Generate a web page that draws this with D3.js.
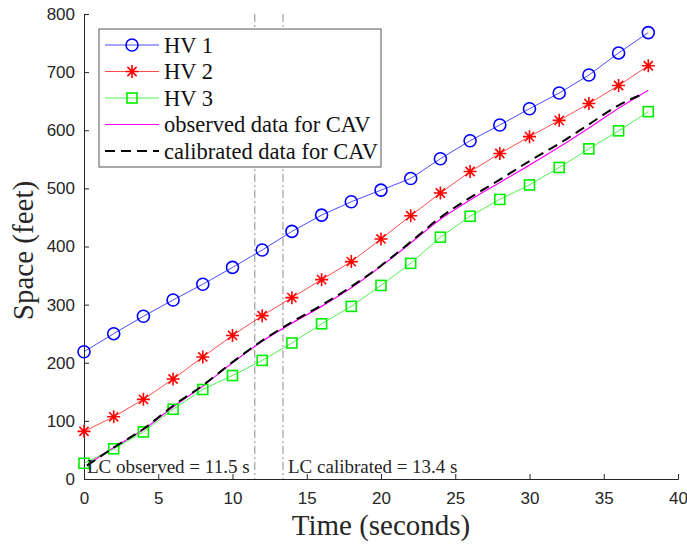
<!DOCTYPE html>
<html>
<head>
<meta charset="utf-8">
<script src="https://cdn.jsdelivr.net/npm/d3@7"></script>
<style>
  body { margin: 0; background: #fff; }
  svg { display: block; }
</style>
</head>
<body>
<div id="chart"></div>
<script>
// sample times (seconds) for the human driven vehicles
const hvTime = [0, 2, 4, 6, 8, 10, 12, 14, 16, 18, 20, 22, 24, 26, 28, 30, 32, 34, 36, 38];
const hv1 = [219, 250, 280, 308, 335, 364, 394, 426, 454, 477, 497, 517, 551, 582, 609, 637, 664, 695, 733, 768];
const hv2 = [82, 107, 137, 172, 210, 247, 281, 312, 343, 374, 413, 453, 492, 529, 560, 589, 617, 646, 677, 711];
const hv3 = [27, 52, 81, 120, 154, 178, 204, 234, 267, 297, 333, 371, 416, 452, 481, 506, 536, 568, 599, 632];

// CAV trajectories
const obsTime = [0.2, 2, 4, 6, 8, 10, 12, 14, 16, 18, 20, 22, 24, 26, 28, 30, 32, 34, 36, 38];
const obsCav = [24, 54, 85, 124, 160, 200, 237, 268, 297, 329, 366, 406, 447, 480, 510, 540, 571, 604, 638, 669];
const calTime = [0.2, 2, 4, 6, 8, 10, 12, 14, 16, 18, 20, 22, 24, 26, 28, 30, 32, 34, 36, 37.6];
const calCav = [23, 54, 86, 126, 161, 201, 238, 270, 299, 331, 367, 408, 450, 484, 515, 547, 577, 610, 643, 662];

const xTicks = [0, 5, 10, 15, 20, 25, 30, 35, 40];
const yTicks = [0, 100, 200, 300, 400, 500, 600, 700, 800];
const lcMarks = [
  { t: 11.5, label: "LC observed = 11.5 s" },
  { t: 13.4, label: "LC calibrated = 13.4 s" }
];
const legendNames = ["HV 1", "HV 2", "HV 3", "observed data for CAV", "calibrated data for CAV"];

const width = 687, height = 550;
const margin = { top: 14, right: 9, bottom: 71, left: 84 };

const svg = d3.select("#chart").append("svg")
  .attr("width", width)
  .attr("height", height);

const x = d3.scaleLinear().domain([0, 40]).range([margin.left, width - margin.right]);
const y = d3.scaleLinear().domain([0, 800]).range([height - margin.bottom, margin.top]);

const axisColor = "#262626";
const serif = "Liberation Serif, Times New Roman, serif";

// axes (ticks point inward like matlab)
const xAxis = svg.append("g")
  .attr("transform", `translate(0,${y(0)})`)
  .call(d3.axisBottom(x).tickValues(xTicks).tickSize(-5).tickPadding(13).tickFormat(d3.format("d")));
const yAxis = svg.append("g")
  .attr("transform", `translate(${x(0)},0)`)
  .call(d3.axisLeft(y).tickValues(yTicks).tickSize(-5).tickPadding(9).tickFormat(d3.format("d")));

[xAxis, yAxis].forEach(a => {
  a.select(".domain").attr("stroke", axisColor).attr("stroke-width", 1);
  a.selectAll(".tick line").attr("stroke", axisColor);
  a.selectAll(".tick text")
    .attr("fill", axisColor)
    .style("font-family", "Liberation Sans, Arial, sans-serif")
    .style("font-size", "17px");
});

// LC vertical lines
svg.selectAll(".lc")
  .data(lcMarks)
  .join("line")
  .attr("class", "lc")
  .attr("x1", d => x(d.t)).attr("x2", d => x(d.t))
  .attr("y1", y(800)).attr("y2", y(0))
  .attr("stroke", "#8c8c8c")
  .attr("stroke-width", 1)
  .attr("stroke-dasharray", "8,3,2,3");

const line = d3.line().x(d => x(d[0])).y(d => y(d[1])).curve(d3.curveMonotoneX);

const series = [
  { name: "HV 1", t: hvTime, v: hv1, color: "#0000ff", marker: "circle" },
  { name: "HV 2", t: hvTime, v: hv2, color: "#ff0000", marker: "star" },
  { name: "HV 3", t: hvTime, v: hv3, color: "#00ee00", marker: "square" }
];

function drawMarker(g, type, color) {
  if (type === "circle") {
    g.append("circle").attr("r", 6).attr("fill", "none").attr("stroke", color).attr("stroke-width", 1.6);
  } else if (type === "square") {
    g.append("rect").attr("x", -5).attr("y", -5).attr("width", 10).attr("height", 10)
      .attr("fill", "none").attr("stroke", color).attr("stroke-width", 1.6);
  } else {
    const r = 6.5;
    const p = [];
    for (let i = 0; i < 4; i++) {
      const a = i * Math.PI / 4;
      p.push(`M${r * Math.cos(a)},${r * Math.sin(a)}L${-r * Math.cos(a)},${-r * Math.sin(a)}`);
    }
    g.append("path").attr("d", p.join("")).attr("stroke", color).attr("stroke-width", 1.6).attr("fill", "none");
  }
}

// magenta observed + black calibrated
svg.append("path")
  .datum(d3.zip(obsTime, obsCav))
  .attr("d", line)
  .attr("fill", "none")
  .attr("stroke", "#ff00ff")
  .attr("stroke-width", 1.2);

series.forEach(s => {
  const pts = d3.zip(s.t, s.v);
  svg.append("path")
    .datum(pts)
    .attr("d", d3.line().x(d => x(d[0])).y(d => y(d[1])))
    .attr("fill", "none")
    .attr("stroke", s.color)
    .attr("stroke-opacity", 0.7)
    .attr("stroke-width", 1);
  svg.append("g").selectAll("g")
    .data(pts)
    .join("g")
    .attr("transform", d => `translate(${x(d[0])},${y(d[1])})`)
    .each(function () { drawMarker(d3.select(this), s.marker, s.color); });
});

svg.append("path")
  .datum(d3.zip(calTime, calCav))
  .attr("d", line)
  .attr("fill", "none")
  .attr("stroke", "#000")
  .attr("stroke-width", 2)
  .attr("stroke-dasharray", "10,6");

// LC labels
svg.selectAll(".lcText")
  .data(lcMarks)
  .join("text")
  .attr("class", "lcText")
  .attr("x", (d, i) => i === 0 ? x(0) + 3 : x(d.t) + 5)
  .attr("y", y(0) - 6)
  .style("font-family", serif)
  .style("font-size", "19px")
  .attr("fill", "#262626")
  .text(d => d.label);

// axis titles
svg.append("text")
  .attr("x", (x(0) + x(40)) / 2)
  .attr("y", 535)
  .attr("text-anchor", "middle")
  .style("font-family", serif)
  .style("font-size", "29px")
  .attr("fill", "#262626")
  .text("Time (seconds)");

svg.append("text")
  .attr("transform", `translate(33,${(y(0) + y(800)) / 2 + 4}) rotate(-90)`)
  .attr("text-anchor", "middle")
  .style("font-family", serif)
  .style("font-size", "29px")
  .attr("fill", "#262626")
  .text("Space (feet)");

// legend
const leg = svg.append("g").attr("transform", "translate(99,29)");
leg.append("rect")
  .attr("width", 282).attr("height", 138)
  .attr("fill", "#fff").attr("stroke", "#555").attr("stroke-width", 1);

const legItems = leg.selectAll(".item")
  .data(legendNames)
  .join("g")
  .attr("class", "item")
  .attr("transform", (d, i) => `translate(0,${16 + i * 26.5})`);

legItems.each(function (d, i) {
  const g = d3.select(this);
  const colors = ["#0000ff", "#ff0000", "#00ee00", "#ff00ff", "#000"];
  const l = g.append("line").attr("x1", 6).attr("x2", 60).attr("y1", 0).attr("y2", 0)
    .attr("stroke", colors[i]).attr("stroke-width", i === 4 ? 2 : 1);
  if (i < 3) {
    l.attr("stroke-opacity", 0.7);
    const m = g.append("g").attr("transform", "translate(33,0)");
    drawMarker(m, series[i].marker, colors[i]);
  }
  if (i === 4) l.attr("stroke-dasharray", "10,6");
  g.append("text")
    .attr("x", 65).attr("y", 0).attr("dy", "0.35em")
    .style("font-family", serif)
    .style("font-size", "22.5px")
    .attr("fill", "#111")
    .text(d);
});
</script>
</body>
</html>
